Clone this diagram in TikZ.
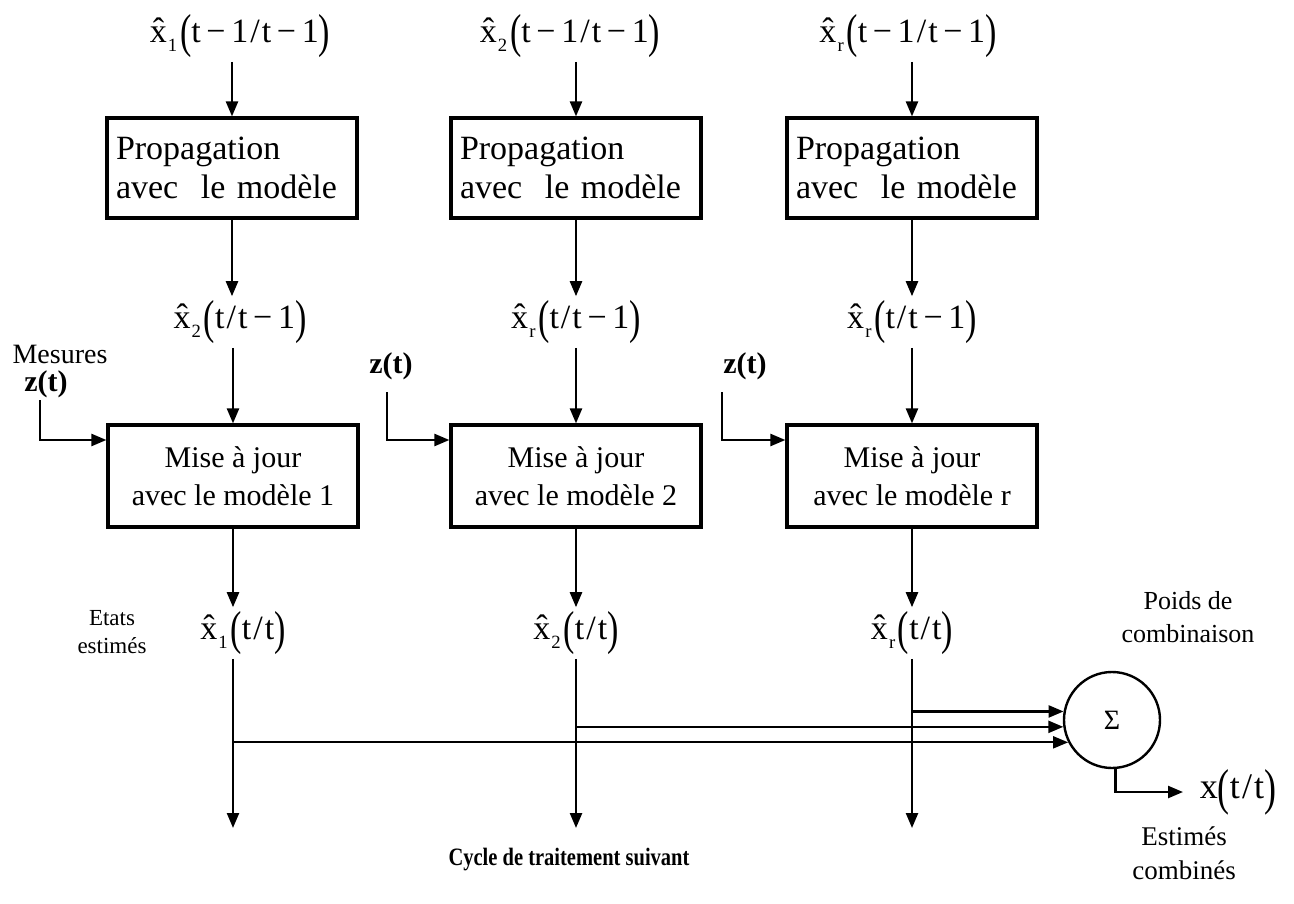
\documentclass[tikz,border=0pt]{standalone}
\usepackage{fontspec}
\setmainfont{Liberation Serif}
\usepackage{graphicx}
\usetikzlibrary{arrows.meta}
\newcommand{\xh}[1]{x̂\kern0.03em\raisebox{-0.28em}{\scalebox{0.55}{#1}}\kern0.08em}
\newcommand{\lp}{\raisebox{-0.16em}{\scalebox{1}[1.4]{(}}}
\newcommand{\rp}{\raisebox{-0.16em}{\scalebox{1}[1.4]{)}}}
\newcommand{\mn}{\,−\,}
\newcommand{\sla}{\kern0.06em/\kern0.06em}
\begin{document}
\begin{tikzpicture}[x=1pt,y=-1pt,
  arr/.style={line width=2.4pt,-{Triangle[length=15pt,width=12pt]}},
  lab/.style={font=\fontsize{34}{40}\selectfont, inner sep=4pt},
  prop/.style={draw, line width=3.2pt, minimum width=250pt, minimum height=100pt,
    text width=232pt, align=left, inner sep=6pt, font=\fontsize{34}{39}\selectfont},
  maj/.style={draw, line width=3.2pt, minimum width=250pt, minimum height=102pt,
    align=center, font=\fontsize{30}{38}\selectfont},
  txt/.style={align=center, inner sep=0pt}
]
\useasboundingbox (0,0) rectangle (1294,904);
% top labels
\node[lab] (t1) at (240,36) {\xh{1}\lp t\mn 1\sla t\mn 1\rp};
\node[lab] (t2) at (570,36) {\xh{2}\lp t\mn 1\sla t\mn 1\rp};
\node[lab] (t3) at (908,36) {\xh{r}\lp t\mn 1\sla t\mn 1\rp};
% propagation boxes
\node[prop] (P1) at (232,168) {Propagation\\avec\ \ le modèle};
\node[prop] (P2) at (576,168) {Propagation\\avec\ \ le modèle};
\node[prop] (P3) at (912,168) {Propagation\\avec\ \ le modèle};
% middle labels
\node[lab] (m1) at (240,322) {\xh{2}\lp t\sla t\mn 1\rp};
\node[lab] (m2) at (576,322) {\xh{r}\lp t\sla t\mn 1\rp};
\node[lab] (m3) at (912,322) {\xh{r}\lp t\sla t\mn 1\rp};
% update boxes
\node[maj] (M1) at (233,476) {Mise à jour\\avec le modèle 1};
\node[maj] (M2) at (576,476) {Mise à jour\\avec le modèle 2};
\node[maj] (M3) at (912,476) {Mise à jour\\avec le modèle r};
% bottom labels
\node[lab] (b1) at (243,633) {\xh{1}\lp t\sla t\rp};
\node[lab] (b2) at (576,633) {\xh{2}\lp t\sla t\rp};
\node[lab] (b3) at (912,633) {\xh{r}\lp t\sla t\rp};
% sum
\node[draw, circle, line width=2.4pt, minimum size=96pt, inner sep=0pt,
  font=\fontsize{28}{30}\selectfont] (S) at (1112,720) {Σ};
\node[lab, font=\fontsize{36}{40}\selectfont] (xo) at (1238,792) {x\lp t\sla t\rp};
% side texts
\node[txt, font=\fontsize{28}{30}\selectfont] (mes) at (60,354) {Mesures};
\node[txt, font=\bfseries\fontsize{30}{32}\selectfont] (z1) at (46,384) {z(t)};
\node[txt, font=\bfseries\fontsize{30}{32}\selectfont] (z2) at (391,366) {z(t)};
\node[txt, font=\bfseries\fontsize{30}{32}\selectfont] (z3) at (745,366) {z(t)};
\node[txt, font=\fontsize{23}{28}\selectfont] (etat) at (112,632) {Etats\\estimés};
\node[txt, font=\fontsize{26}{33}\selectfont] (poids) at (1188,617) {Poids de\\combinaison};
\node[txt, font=\fontsize{27}{34}\selectfont] (estc) at (1184,853) {Estimés\\combinés};
\node[txt, font=\bfseries\fontsize{25}{28}\selectfont] (cyc) at (569,860) {\scalebox{0.82}[1]{Cycle de traitement suivant}};
% coordinates
\coordinate (z1a) at (40,400);
\coordinate (z2a) at (387,392);
\coordinate (z3a) at (722,392);
\coordinate (zy) at (0,440);
\coordinate (e1) at (233,828);
\coordinate (e2) at (576,828);
\coordinate (e3) at (912,828);
\coordinate (oe) at (1183,792);
% arrows top
\foreach \i in {1,2,3}{
  \draw[arr] (t\i.south -| P\i.north) -- (P\i.north);
  \draw[arr] (P\i.south) -- (m\i.north -| P\i.south);
  \draw[arr] (m\i.south -| M\i.north) -- (M\i.north);
  \draw[arr] (M\i.south) -- (b\i.north -| M\i.south);
  \draw[arr] (b\i.south -| M\i.south) -- (e\i);
  \draw[arr] (z\i a) |- (M\i.west |- zy);
}
% into sum
\draw[arr] (S.170 -| M3.south) -- (S.170);
\draw[arr] (S.188 -| M2.south) -- (S.188);
\draw[arr, line width=1.8pt] (S.207 -| M1.south) -- (S.207);
\draw[arr] (S.-86) |- (oe);
\end{tikzpicture}
\end{document}
